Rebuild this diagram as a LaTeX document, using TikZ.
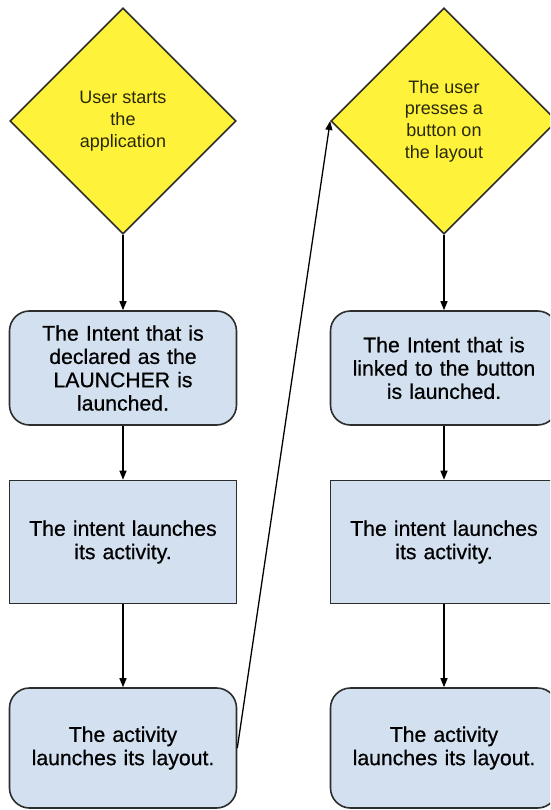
\documentclass[tikz,border=0pt]{standalone}
\usepackage{fontspec}
\setmainfont{Liberation Sans}
\newfontfamily\boxfont[FakeBold=0.6]{Liberation Sans}
\usetikzlibrary{shapes.geometric,positioning,arrows.meta}

\definecolor{diayellow}{RGB}{255,242,58}
\definecolor{boxblue}{RGB}{211,224,239}
\definecolor{edgegray}{RGB}{45,45,45}
\definecolor{diatext}{RGB}{40,40,10}

\begin{document}
\begin{tikzpicture}[x=1pt,y=-1pt,
  decision/.style={diamond,draw=edgegray,line width=1.6pt,fill=diayellow,
    minimum width=226,minimum height=226,inner sep=0pt,align=center,
    text=diatext,font=\fontsize{18}{21.7}\selectfont},
  roundbox/.style={rectangle,rounded corners=20,draw=edgegray,line width=1.6pt,fill=boxblue,
    minimum width=227,text width=220,align=center,
    font=\boxfont\fontsize{21.2}{23.3}\selectfont},
  squarebox/.style={roundbox,rounded corners=0},
  flow/.style={-{Triangle[length=9pt,width=7pt]},line width=1.3pt,black}]

\clip (0,0) rectangle (550,810);

% left column
\node[decision] (startL) at (123,121) {User starts\\the\\application};
\node[roundbox,minimum height=114] (launcher) at (123,368) {The Intent that is\\declared as the\\LAUNCHER is\\launched.};
\node[squarebox,minimum height=123] (activityL) at (123,542) {The intent launches\\its activity.};
\node[roundbox,minimum height=120] (layoutL) at (123,748) {The activity\\launches its layout.};

% right column
\node[decision] (press) at (444,121) {The user\\presses a\\button on\\the layout};
\node[roundbox,minimum height=114] (button) at (444,368) {The Intent that is\\linked to the button\\is launched.};
\node[squarebox,minimum height=123] (activityR) at (444,542) {The intent launches\\its activity.};
\node[roundbox,minimum height=120] (layoutR) at (444,748) {The activity\\launches its layout.};

\draw[flow] (startL) -- (launcher);
\draw[flow] (launcher) -- (activityL);
\draw[flow] (activityL) -- (layoutL);
\draw[flow] (layoutL.east) -- (press.west);
\draw[flow] (press) -- (button);
\draw[flow] (button) -- (activityR);
\draw[flow] (activityR) -- (layoutR);

\end{tikzpicture}
\end{document}
